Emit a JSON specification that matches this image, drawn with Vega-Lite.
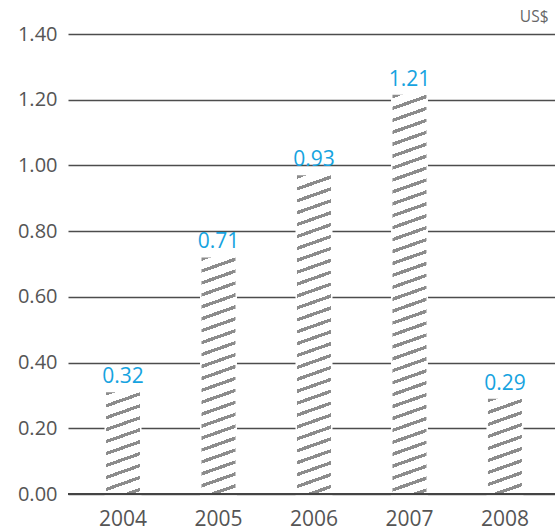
{
  "$schema": "https://vega.github.io/schema/vega-lite/v6.json",
  "width": 487,
  "height": 460,
  "autosize": {"type": "none"},
  "padding": {"left": 68, "top": 34, "right": 0, "bottom": 38},
  "background": "#ffffff",
  "config": {"view": {"stroke": null}},
  "data": {"values": [
    {"year": "2004", "value": 0.31, "label": "0.32"},
    {"year": "2005", "value": 0.72, "label": "0.71"},
    {"year": "2006", "value": 0.97, "label": "0.93"},
    {"year": "2007", "value": 1.215, "label": "1.21"},
    {"year": "2008", "value": 0.29, "label": "0.29"}
  ]},
  "layer": [
    {
      "mark": {"type": "bar", "fill": "#ffffff", "stroke": "#ffffff", "strokeWidth": 3},
      "encoding": {
        "x": {"field": "year", "type": "ordinal", "scale": {"type": "band", "paddingInner": 0.644, "paddingOuter": 0.372, "align": 0.535},
          "axis": {"title": null, "domain": false, "ticks": false, "tickSize": 0, "grid": false, "labelAngle": 0, "labelBaseline": "alphabetic", "labelPadding": 31, "labelFont": "Open Sans", "labelFontSize": 21, "labelColor": "#555555"}},
        "y": {"field": "value", "type": "quantitative", "scale": {"domain": [0, 1.4], "nice": false, "zero": true},
          "axis": {"title": "US$", "titleAngle": 0, "titleX": 480, "titleY": -13, "titleAlign": "right", "titleBaseline": "alphabetic", "titleFont": "Open Sans", "titleFontSize": 15.5, "titleFontWeight": "normal", "titleColor": "#666666",
            "values": [0, 0.2, 0.4, 0.6, 0.8, 1.0, 1.2, 1.4], "format": ".2f", "domain": false, "ticks": false, "tickSize": 0, "grid": true, "gridColor": "#4d4d4d", "gridWidth": 1.3, "labelPadding": 11, "labelFont": "Open Sans", "labelFontSize": 20, "labelColor": "#555555"}}
      }
    },
    {
      "transform": [{"filter": "datum.year == '2004'"}],
      "mark": {"type": "bar", "fill": {"gradient": "linear", "x1": 0, "y1": 0, "x2": 0.1299, "y2": 1.1025, "stops": [
        {"offset": 0, "color": "#8c8c8c"}, {"offset": 0.03, "color": "#8c8c8c"}, {"offset": 0.03, "color": "#fff"}, {"offset": 0.105, "color": "#fff"},
        {"offset": 0.105, "color": "#8c8c8c"}, {"offset": 0.135, "color": "#8c8c8c"}, {"offset": 0.135, "color": "#fff"}, {"offset": 0.21, "color": "#fff"},
        {"offset": 0.21, "color": "#8c8c8c"}, {"offset": 0.24, "color": "#8c8c8c"}, {"offset": 0.24, "color": "#fff"}, {"offset": 0.315, "color": "#fff"},
        {"offset": 0.315, "color": "#8c8c8c"}, {"offset": 0.345, "color": "#8c8c8c"}, {"offset": 0.345, "color": "#fff"}, {"offset": 0.42, "color": "#fff"},
        {"offset": 0.42, "color": "#8c8c8c"}, {"offset": 0.45, "color": "#8c8c8c"}, {"offset": 0.45, "color": "#fff"}, {"offset": 0.525, "color": "#fff"},
        {"offset": 0.525, "color": "#8c8c8c"}, {"offset": 0.555, "color": "#8c8c8c"}, {"offset": 0.555, "color": "#fff"}, {"offset": 0.63, "color": "#fff"},
        {"offset": 0.63, "color": "#8c8c8c"}, {"offset": 0.66, "color": "#8c8c8c"}, {"offset": 0.66, "color": "#fff"}, {"offset": 0.735, "color": "#fff"},
        {"offset": 0.735, "color": "#8c8c8c"}, {"offset": 0.765, "color": "#8c8c8c"}, {"offset": 0.765, "color": "#fff"}, {"offset": 0.84, "color": "#fff"},
        {"offset": 0.84, "color": "#8c8c8c"}, {"offset": 0.87, "color": "#8c8c8c"}, {"offset": 0.87, "color": "#fff"}, {"offset": 0.945, "color": "#fff"},
        {"offset": 0.945, "color": "#8c8c8c"}, {"offset": 0.975, "color": "#8c8c8c"}, {"offset": 0.975, "color": "#fff"}
      ]}},
      "encoding": {"x": {"field": "year", "type": "ordinal"}, "y": {"field": "value", "type": "quantitative"}}
    },
    {
      "transform": [{"filter": "datum.year == '2005'"}],
      "mark": {"type": "bar", "fill": {"gradient": "linear", "x1": 0, "y1": 0, "x2": 0.0532, "y2": 1.048, "stops": [
        {"offset": 0, "color": "#8c8c8c"}, {"offset": 0.014, "color": "#8c8c8c"}, {"offset": 0.014, "color": "#fff"}, {"offset": 0.048, "color": "#fff"},
        {"offset": 0.048, "color": "#8c8c8c"}, {"offset": 0.062, "color": "#8c8c8c"}, {"offset": 0.062, "color": "#fff"}, {"offset": 0.096, "color": "#fff"},
        {"offset": 0.096, "color": "#8c8c8c"}, {"offset": 0.11, "color": "#8c8c8c"}, {"offset": 0.11, "color": "#fff"}, {"offset": 0.144, "color": "#fff"},
        {"offset": 0.144, "color": "#8c8c8c"}, {"offset": 0.158, "color": "#8c8c8c"}, {"offset": 0.158, "color": "#fff"}, {"offset": 0.192, "color": "#fff"},
        {"offset": 0.192, "color": "#8c8c8c"}, {"offset": 0.206, "color": "#8c8c8c"}, {"offset": 0.206, "color": "#fff"}, {"offset": 0.24, "color": "#fff"},
        {"offset": 0.24, "color": "#8c8c8c"}, {"offset": 0.254, "color": "#8c8c8c"}, {"offset": 0.254, "color": "#fff"}, {"offset": 0.288, "color": "#fff"},
        {"offset": 0.288, "color": "#8c8c8c"}, {"offset": 0.302, "color": "#8c8c8c"}, {"offset": 0.302, "color": "#fff"}, {"offset": 0.336, "color": "#fff"},
        {"offset": 0.336, "color": "#8c8c8c"}, {"offset": 0.35, "color": "#8c8c8c"}, {"offset": 0.35, "color": "#fff"}, {"offset": 0.384, "color": "#fff"},
        {"offset": 0.384, "color": "#8c8c8c"}, {"offset": 0.398, "color": "#8c8c8c"}, {"offset": 0.398, "color": "#fff"}, {"offset": 0.432, "color": "#fff"},
        {"offset": 0.432, "color": "#8c8c8c"}, {"offset": 0.446, "color": "#8c8c8c"}, {"offset": 0.446, "color": "#fff"}, {"offset": 0.48, "color": "#fff"},
        {"offset": 0.48, "color": "#8c8c8c"}, {"offset": 0.494, "color": "#8c8c8c"}, {"offset": 0.494, "color": "#fff"}, {"offset": 0.528, "color": "#fff"},
        {"offset": 0.528, "color": "#8c8c8c"}, {"offset": 0.542, "color": "#8c8c8c"}, {"offset": 0.542, "color": "#fff"}, {"offset": 0.576, "color": "#fff"},
        {"offset": 0.576, "color": "#8c8c8c"}, {"offset": 0.59, "color": "#8c8c8c"}, {"offset": 0.59, "color": "#fff"}, {"offset": 0.624, "color": "#fff"},
        {"offset": 0.624, "color": "#8c8c8c"}, {"offset": 0.638, "color": "#8c8c8c"}, {"offset": 0.638, "color": "#fff"}, {"offset": 0.672, "color": "#fff"},
        {"offset": 0.672, "color": "#8c8c8c"}, {"offset": 0.686, "color": "#8c8c8c"}, {"offset": 0.686, "color": "#fff"}, {"offset": 0.72, "color": "#fff"},
        {"offset": 0.72, "color": "#8c8c8c"}, {"offset": 0.734, "color": "#8c8c8c"}, {"offset": 0.734, "color": "#fff"}, {"offset": 0.768, "color": "#fff"},
        {"offset": 0.768, "color": "#8c8c8c"}, {"offset": 0.782, "color": "#8c8c8c"}, {"offset": 0.782, "color": "#fff"}, {"offset": 0.816, "color": "#fff"},
        {"offset": 0.816, "color": "#8c8c8c"}, {"offset": 0.83, "color": "#8c8c8c"}, {"offset": 0.83, "color": "#fff"}, {"offset": 0.864, "color": "#fff"},
        {"offset": 0.864, "color": "#8c8c8c"}, {"offset": 0.878, "color": "#8c8c8c"}, {"offset": 0.878, "color": "#fff"}, {"offset": 0.912, "color": "#fff"},
        {"offset": 0.912, "color": "#8c8c8c"}, {"offset": 0.926, "color": "#8c8c8c"}, {"offset": 0.926, "color": "#fff"}, {"offset": 0.96, "color": "#fff"},
        {"offset": 0.96, "color": "#8c8c8c"}, {"offset": 0.974, "color": "#8c8c8c"}, {"offset": 0.974, "color": "#fff"}
      ]}},
      "encoding": {"x": {"field": "year", "type": "ordinal"}, "y": {"field": "value", "type": "quantitative"}}
    },
    {
      "transform": [{"filter": "datum.year == '2006'"}],
      "mark": {"type": "bar", "fill": {"gradient": "linear", "x1": 0, "y1": 0, "x2": 0.039, "y2": 1.0362, "stops": [
        {"offset": 0, "color": "#8c8c8c"}, {"offset": 0.0105, "color": "#8c8c8c"}, {"offset": 0.0105, "color": "#fff"}, {"offset": 0.036, "color": "#fff"},
        {"offset": 0.036, "color": "#8c8c8c"}, {"offset": 0.0465, "color": "#8c8c8c"}, {"offset": 0.0465, "color": "#fff"}, {"offset": 0.072, "color": "#fff"},
        {"offset": 0.072, "color": "#8c8c8c"}, {"offset": 0.0825, "color": "#8c8c8c"}, {"offset": 0.0825, "color": "#fff"}, {"offset": 0.108, "color": "#fff"},
        {"offset": 0.108, "color": "#8c8c8c"}, {"offset": 0.1185, "color": "#8c8c8c"}, {"offset": 0.1185, "color": "#fff"}, {"offset": 0.144, "color": "#fff"},
        {"offset": 0.144, "color": "#8c8c8c"}, {"offset": 0.1545, "color": "#8c8c8c"}, {"offset": 0.1545, "color": "#fff"}, {"offset": 0.18, "color": "#fff"},
        {"offset": 0.18, "color": "#8c8c8c"}, {"offset": 0.1905, "color": "#8c8c8c"}, {"offset": 0.1905, "color": "#fff"}, {"offset": 0.216, "color": "#fff"},
        {"offset": 0.216, "color": "#8c8c8c"}, {"offset": 0.2265, "color": "#8c8c8c"}, {"offset": 0.2265, "color": "#fff"}, {"offset": 0.252, "color": "#fff"},
        {"offset": 0.252, "color": "#8c8c8c"}, {"offset": 0.2625, "color": "#8c8c8c"}, {"offset": 0.2625, "color": "#fff"}, {"offset": 0.288, "color": "#fff"},
        {"offset": 0.288, "color": "#8c8c8c"}, {"offset": 0.2985, "color": "#8c8c8c"}, {"offset": 0.2985, "color": "#fff"}, {"offset": 0.324, "color": "#fff"},
        {"offset": 0.324, "color": "#8c8c8c"}, {"offset": 0.3345, "color": "#8c8c8c"}, {"offset": 0.3345, "color": "#fff"}, {"offset": 0.36, "color": "#fff"},
        {"offset": 0.36, "color": "#8c8c8c"}, {"offset": 0.3705, "color": "#8c8c8c"}, {"offset": 0.3705, "color": "#fff"}, {"offset": 0.396, "color": "#fff"},
        {"offset": 0.396, "color": "#8c8c8c"}, {"offset": 0.4065, "color": "#8c8c8c"}, {"offset": 0.4065, "color": "#fff"}, {"offset": 0.432, "color": "#fff"},
        {"offset": 0.432, "color": "#8c8c8c"}, {"offset": 0.4425, "color": "#8c8c8c"}, {"offset": 0.4425, "color": "#fff"}, {"offset": 0.468, "color": "#fff"},
        {"offset": 0.468, "color": "#8c8c8c"}, {"offset": 0.4785, "color": "#8c8c8c"}, {"offset": 0.4785, "color": "#fff"}, {"offset": 0.504, "color": "#fff"},
        {"offset": 0.504, "color": "#8c8c8c"}, {"offset": 0.5145, "color": "#8c8c8c"}, {"offset": 0.5145, "color": "#fff"}, {"offset": 0.54, "color": "#fff"},
        {"offset": 0.54, "color": "#8c8c8c"}, {"offset": 0.5505, "color": "#8c8c8c"}, {"offset": 0.5505, "color": "#fff"}, {"offset": 0.576, "color": "#fff"},
        {"offset": 0.576, "color": "#8c8c8c"}, {"offset": 0.5865, "color": "#8c8c8c"}, {"offset": 0.5865, "color": "#fff"}, {"offset": 0.612, "color": "#fff"},
        {"offset": 0.612, "color": "#8c8c8c"}, {"offset": 0.6225, "color": "#8c8c8c"}, {"offset": 0.6225, "color": "#fff"}, {"offset": 0.648, "color": "#fff"},
        {"offset": 0.648, "color": "#8c8c8c"}, {"offset": 0.6585, "color": "#8c8c8c"}, {"offset": 0.6585, "color": "#fff"}, {"offset": 0.684, "color": "#fff"},
        {"offset": 0.684, "color": "#8c8c8c"}, {"offset": 0.6945, "color": "#8c8c8c"}, {"offset": 0.6945, "color": "#fff"}, {"offset": 0.72, "color": "#fff"},
        {"offset": 0.72, "color": "#8c8c8c"}, {"offset": 0.7305, "color": "#8c8c8c"}, {"offset": 0.7305, "color": "#fff"}, {"offset": 0.756, "color": "#fff"},
        {"offset": 0.756, "color": "#8c8c8c"}, {"offset": 0.7665, "color": "#8c8c8c"}, {"offset": 0.7665, "color": "#fff"}, {"offset": 0.792, "color": "#fff"},
        {"offset": 0.792, "color": "#8c8c8c"}, {"offset": 0.8025, "color": "#8c8c8c"}, {"offset": 0.8025, "color": "#fff"}, {"offset": 0.828, "color": "#fff"},
        {"offset": 0.828, "color": "#8c8c8c"}, {"offset": 0.8385, "color": "#8c8c8c"}, {"offset": 0.8385, "color": "#fff"}, {"offset": 0.864, "color": "#fff"},
        {"offset": 0.864, "color": "#8c8c8c"}, {"offset": 0.8745, "color": "#8c8c8c"}, {"offset": 0.8745, "color": "#fff"}, {"offset": 0.9, "color": "#fff"},
        {"offset": 0.9, "color": "#8c8c8c"}, {"offset": 0.9105, "color": "#8c8c8c"}, {"offset": 0.9105, "color": "#fff"}, {"offset": 0.936, "color": "#fff"},
        {"offset": 0.936, "color": "#8c8c8c"}, {"offset": 0.9465, "color": "#8c8c8c"}, {"offset": 0.9465, "color": "#fff"}, {"offset": 0.972, "color": "#fff"},
        {"offset": 0.972, "color": "#8c8c8c"}, {"offset": 0.9825, "color": "#8c8c8c"}, {"offset": 0.9825, "color": "#fff"}
      ]}},
      "encoding": {"x": {"field": "year", "type": "ordinal"}, "y": {"field": "value", "type": "quantitative"}}
    },
    {
      "transform": [{"filter": "datum.year == '2007'"}],
      "mark": {"type": "bar", "fill": {"gradient": "linear", "x1": 0, "y1": 0, "x2": 0.0309, "y2": 1.0291, "stops": [
        {"offset": 0, "color": "#8c8c8c"}, {"offset": 0.0085, "color": "#8c8c8c"}, {"offset": 0.0085, "color": "#fff"}, {"offset": 0.029, "color": "#fff"},
        {"offset": 0.029, "color": "#8c8c8c"}, {"offset": 0.0375, "color": "#8c8c8c"}, {"offset": 0.0375, "color": "#fff"}, {"offset": 0.058, "color": "#fff"},
        {"offset": 0.058, "color": "#8c8c8c"}, {"offset": 0.0665, "color": "#8c8c8c"}, {"offset": 0.0665, "color": "#fff"}, {"offset": 0.087, "color": "#fff"},
        {"offset": 0.087, "color": "#8c8c8c"}, {"offset": 0.0955, "color": "#8c8c8c"}, {"offset": 0.0955, "color": "#fff"}, {"offset": 0.116, "color": "#fff"},
        {"offset": 0.116, "color": "#8c8c8c"}, {"offset": 0.1245, "color": "#8c8c8c"}, {"offset": 0.1245, "color": "#fff"}, {"offset": 0.145, "color": "#fff"},
        {"offset": 0.145, "color": "#8c8c8c"}, {"offset": 0.1535, "color": "#8c8c8c"}, {"offset": 0.1535, "color": "#fff"}, {"offset": 0.174, "color": "#fff"},
        {"offset": 0.174, "color": "#8c8c8c"}, {"offset": 0.1825, "color": "#8c8c8c"}, {"offset": 0.1825, "color": "#fff"}, {"offset": 0.203, "color": "#fff"},
        {"offset": 0.203, "color": "#8c8c8c"}, {"offset": 0.2115, "color": "#8c8c8c"}, {"offset": 0.2115, "color": "#fff"}, {"offset": 0.232, "color": "#fff"},
        {"offset": 0.232, "color": "#8c8c8c"}, {"offset": 0.2405, "color": "#8c8c8c"}, {"offset": 0.2405, "color": "#fff"}, {"offset": 0.261, "color": "#fff"},
        {"offset": 0.261, "color": "#8c8c8c"}, {"offset": 0.2695, "color": "#8c8c8c"}, {"offset": 0.2695, "color": "#fff"}, {"offset": 0.29, "color": "#fff"},
        {"offset": 0.29, "color": "#8c8c8c"}, {"offset": 0.2985, "color": "#8c8c8c"}, {"offset": 0.2985, "color": "#fff"}, {"offset": 0.319, "color": "#fff"},
        {"offset": 0.319, "color": "#8c8c8c"}, {"offset": 0.3275, "color": "#8c8c8c"}, {"offset": 0.3275, "color": "#fff"}, {"offset": 0.348, "color": "#fff"},
        {"offset": 0.348, "color": "#8c8c8c"}, {"offset": 0.3565, "color": "#8c8c8c"}, {"offset": 0.3565, "color": "#fff"}, {"offset": 0.377, "color": "#fff"},
        {"offset": 0.377, "color": "#8c8c8c"}, {"offset": 0.3855, "color": "#8c8c8c"}, {"offset": 0.3855, "color": "#fff"}, {"offset": 0.406, "color": "#fff"},
        {"offset": 0.406, "color": "#8c8c8c"}, {"offset": 0.4145, "color": "#8c8c8c"}, {"offset": 0.4145, "color": "#fff"}, {"offset": 0.435, "color": "#fff"},
        {"offset": 0.435, "color": "#8c8c8c"}, {"offset": 0.4435, "color": "#8c8c8c"}, {"offset": 0.4435, "color": "#fff"}, {"offset": 0.464, "color": "#fff"},
        {"offset": 0.464, "color": "#8c8c8c"}, {"offset": 0.4725, "color": "#8c8c8c"}, {"offset": 0.4725, "color": "#fff"}, {"offset": 0.493, "color": "#fff"},
        {"offset": 0.493, "color": "#8c8c8c"}, {"offset": 0.5015, "color": "#8c8c8c"}, {"offset": 0.5015, "color": "#fff"}, {"offset": 0.522, "color": "#fff"},
        {"offset": 0.522, "color": "#8c8c8c"}, {"offset": 0.5305, "color": "#8c8c8c"}, {"offset": 0.5305, "color": "#fff"}, {"offset": 0.551, "color": "#fff"},
        {"offset": 0.551, "color": "#8c8c8c"}, {"offset": 0.5595, "color": "#8c8c8c"}, {"offset": 0.5595, "color": "#fff"}, {"offset": 0.58, "color": "#fff"},
        {"offset": 0.58, "color": "#8c8c8c"}, {"offset": 0.5885, "color": "#8c8c8c"}, {"offset": 0.5885, "color": "#fff"}, {"offset": 0.609, "color": "#fff"},
        {"offset": 0.609, "color": "#8c8c8c"}, {"offset": 0.6175, "color": "#8c8c8c"}, {"offset": 0.6175, "color": "#fff"}, {"offset": 0.638, "color": "#fff"},
        {"offset": 0.638, "color": "#8c8c8c"}, {"offset": 0.6465, "color": "#8c8c8c"}, {"offset": 0.6465, "color": "#fff"}, {"offset": 0.667, "color": "#fff"},
        {"offset": 0.667, "color": "#8c8c8c"}, {"offset": 0.6755, "color": "#8c8c8c"}, {"offset": 0.6755, "color": "#fff"}, {"offset": 0.696, "color": "#fff"},
        {"offset": 0.696, "color": "#8c8c8c"}, {"offset": 0.7045, "color": "#8c8c8c"}, {"offset": 0.7045, "color": "#fff"}, {"offset": 0.725, "color": "#fff"},
        {"offset": 0.725, "color": "#8c8c8c"}, {"offset": 0.7335, "color": "#8c8c8c"}, {"offset": 0.7335, "color": "#fff"}, {"offset": 0.754, "color": "#fff"},
        {"offset": 0.754, "color": "#8c8c8c"}, {"offset": 0.7625, "color": "#8c8c8c"}, {"offset": 0.7625, "color": "#fff"}, {"offset": 0.783, "color": "#fff"},
        {"offset": 0.783, "color": "#8c8c8c"}, {"offset": 0.7915, "color": "#8c8c8c"}, {"offset": 0.7915, "color": "#fff"}, {"offset": 0.812, "color": "#fff"},
        {"offset": 0.812, "color": "#8c8c8c"}, {"offset": 0.8205, "color": "#8c8c8c"}, {"offset": 0.8205, "color": "#fff"}, {"offset": 0.841, "color": "#fff"},
        {"offset": 0.841, "color": "#8c8c8c"}, {"offset": 0.8495, "color": "#8c8c8c"}, {"offset": 0.8495, "color": "#fff"}, {"offset": 0.87, "color": "#fff"},
        {"offset": 0.87, "color": "#8c8c8c"}, {"offset": 0.8785, "color": "#8c8c8c"}, {"offset": 0.8785, "color": "#fff"}, {"offset": 0.899, "color": "#fff"},
        {"offset": 0.899, "color": "#8c8c8c"}, {"offset": 0.9075, "color": "#8c8c8c"}, {"offset": 0.9075, "color": "#fff"}, {"offset": 0.928, "color": "#fff"},
        {"offset": 0.928, "color": "#8c8c8c"}, {"offset": 0.9365, "color": "#8c8c8c"}, {"offset": 0.9365, "color": "#fff"}, {"offset": 0.957, "color": "#fff"},
        {"offset": 0.957, "color": "#8c8c8c"}, {"offset": 0.9655, "color": "#8c8c8c"}, {"offset": 0.9655, "color": "#fff"}, {"offset": 0.986, "color": "#fff"},
        {"offset": 0.986, "color": "#8c8c8c"}, {"offset": 0.9945, "color": "#8c8c8c"}, {"offset": 0.9945, "color": "#fff"}
      ]}},
      "encoding": {"x": {"field": "year", "type": "ordinal"}, "y": {"field": "value", "type": "quantitative"}}
    },
    {
      "transform": [{"filter": "datum.year == '2008'"}],
      "mark": {"type": "bar", "fill": {"gradient": "linear", "x1": 0, "y1": 0, "x2": 0.1396, "y2": 1.1084, "stops": [
        {"offset": 0, "color": "#8c8c8c"}, {"offset": 0.0325, "color": "#8c8c8c"}, {"offset": 0.0325, "color": "#fff"}, {"offset": 0.112, "color": "#fff"},
        {"offset": 0.112, "color": "#8c8c8c"}, {"offset": 0.1445, "color": "#8c8c8c"}, {"offset": 0.1445, "color": "#fff"}, {"offset": 0.224, "color": "#fff"},
        {"offset": 0.224, "color": "#8c8c8c"}, {"offset": 0.2565, "color": "#8c8c8c"}, {"offset": 0.2565, "color": "#fff"}, {"offset": 0.336, "color": "#fff"},
        {"offset": 0.336, "color": "#8c8c8c"}, {"offset": 0.3685, "color": "#8c8c8c"}, {"offset": 0.3685, "color": "#fff"}, {"offset": 0.448, "color": "#fff"},
        {"offset": 0.448, "color": "#8c8c8c"}, {"offset": 0.4805, "color": "#8c8c8c"}, {"offset": 0.4805, "color": "#fff"}, {"offset": 0.56, "color": "#fff"},
        {"offset": 0.56, "color": "#8c8c8c"}, {"offset": 0.5925, "color": "#8c8c8c"}, {"offset": 0.5925, "color": "#fff"}, {"offset": 0.672, "color": "#fff"},
        {"offset": 0.672, "color": "#8c8c8c"}, {"offset": 0.7045, "color": "#8c8c8c"}, {"offset": 0.7045, "color": "#fff"}, {"offset": 0.784, "color": "#fff"},
        {"offset": 0.784, "color": "#8c8c8c"}, {"offset": 0.8165, "color": "#8c8c8c"}, {"offset": 0.8165, "color": "#fff"}, {"offset": 0.896, "color": "#fff"},
        {"offset": 0.896, "color": "#8c8c8c"}, {"offset": 0.9285, "color": "#8c8c8c"}, {"offset": 0.9285, "color": "#fff"}
      ]}},
      "encoding": {"x": {"field": "year", "type": "ordinal"}, "y": {"field": "value", "type": "quantitative"}}
    },
    {
      "mark": {"type": "rule", "color": "#444444", "strokeWidth": 1.3},
      "encoding": {"y": {"datum": 0, "type": "quantitative"}}
    },
    {
      "mark": {"type": "text", "baseline": "alphabetic", "align": "center", "dy": -9, "font": "Open Sans", "fontSize": 21, "color": "#16a3e0"},
      "encoding": {
        "x": {"field": "year", "type": "ordinal"},
        "y": {"field": "value", "type": "quantitative"},
        "text": {"field": "label"}
      }
    }
  ]
}
